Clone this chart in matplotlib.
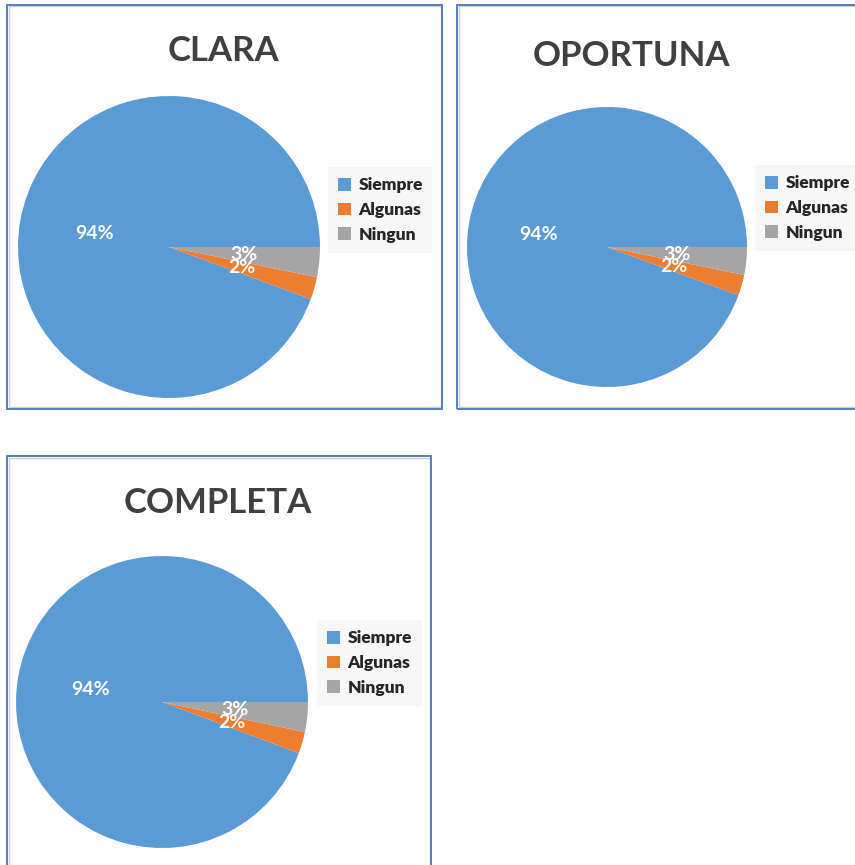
import matplotlib
matplotlib.use('Agg')
import matplotlib.pyplot as plt
from matplotlib.patches import Rectangle

plt.rcParams['font.family'] = ['Lato', 'DejaVu Sans']

categories = ['Siempre', 'Algunas', 'Ningun']
titles = ['CLARA', 'OPORTUNA', 'COMPLETA']
clara = [94.4, 2.4, 3.2]
oportuna = [94.4, 2.4, 3.2]
completa = [94.4, 2.4, 3.3]
colors = ['#5B9BD5', '#ED7D31', '#A5A5A5']

W, H = 855, 865


def fx(x):
    return x / W


def fy(y):
    return 1 - y / H


def frame(fig, x0, y0, x1, y1):
    # blue chart border with a faint grey inner line
    fig.add_artist(Rectangle((fx(x0 + 1.5), fy(y1 - 1.5)), (x1 - x0 - 3) / W, (y1 - y0 - 3) / H,
                             transform=fig.transFigure, fill=False, edgecolor='#D0D0D0', lw=1.0))
    fig.add_artist(Rectangle((fx(x0), fy(y1)), (x1 - x0) / W, (y1 - y0) / H,
                             transform=fig.transFigure, fill=False, edgecolor='#4A76B8', lw=1.3))


def panel(fig, values, title, cx, cy, r, tx, ty, lx, ly):
    ax = fig.add_axes([fx(cx - r), fy(cy + r), 2 * r / W, 2 * r / H])
    wedges, texts, autotexts = ax.pie(values, colors=colors, startangle=0, counterclock=True,
                                      autopct='%.0f%%', pctdistance=0.5,
                                      textprops=dict(color='white', fontsize=14, fontweight='bold'))
    ax.set_xlim(-1, 1)
    ax.set_ylim(-1, 1)
    fig.text(fx(tx), fy(ty), title, ha='center', va='center', fontsize=25,
             fontweight='bold', color='#404040')
    leg = fig.legend(wedges, categories, loc='upper left', bbox_to_anchor=(fx(lx), fy(ly)),
                     bbox_transform=fig.transFigure, frameon=True, fancybox=False,
                     facecolor='#F7F7F7', edgecolor='none', framealpha=1,
                     handlelength=0.75, handleheight=0.75, handletextpad=0.4,
                     labelspacing=0.5, borderpad=0.6, borderaxespad=0,
                     prop=dict(size=12.5, weight='heavy'))
    for t in leg.get_texts():
        t.set_color('#262626')


fig = plt.figure(figsize=(W / 100, H / 100), dpi=100)

frame(fig, 7, 5, 442, 409)
frame(fig, 457, 5, 870, 409)
frame(fig, 7, 456, 431, 880)

panel(fig, clara, titles[0], 169, 247, 151, 223, 51, 328, 167)
panel(fig, oportuna, titles[1], 607, 247, 140, 631, 56, 755, 165)
panel(fig, completa, titles[2], 162, 702, 146, 218, 503, 317, 620)

fig.savefig('out.png', dpi=100)
